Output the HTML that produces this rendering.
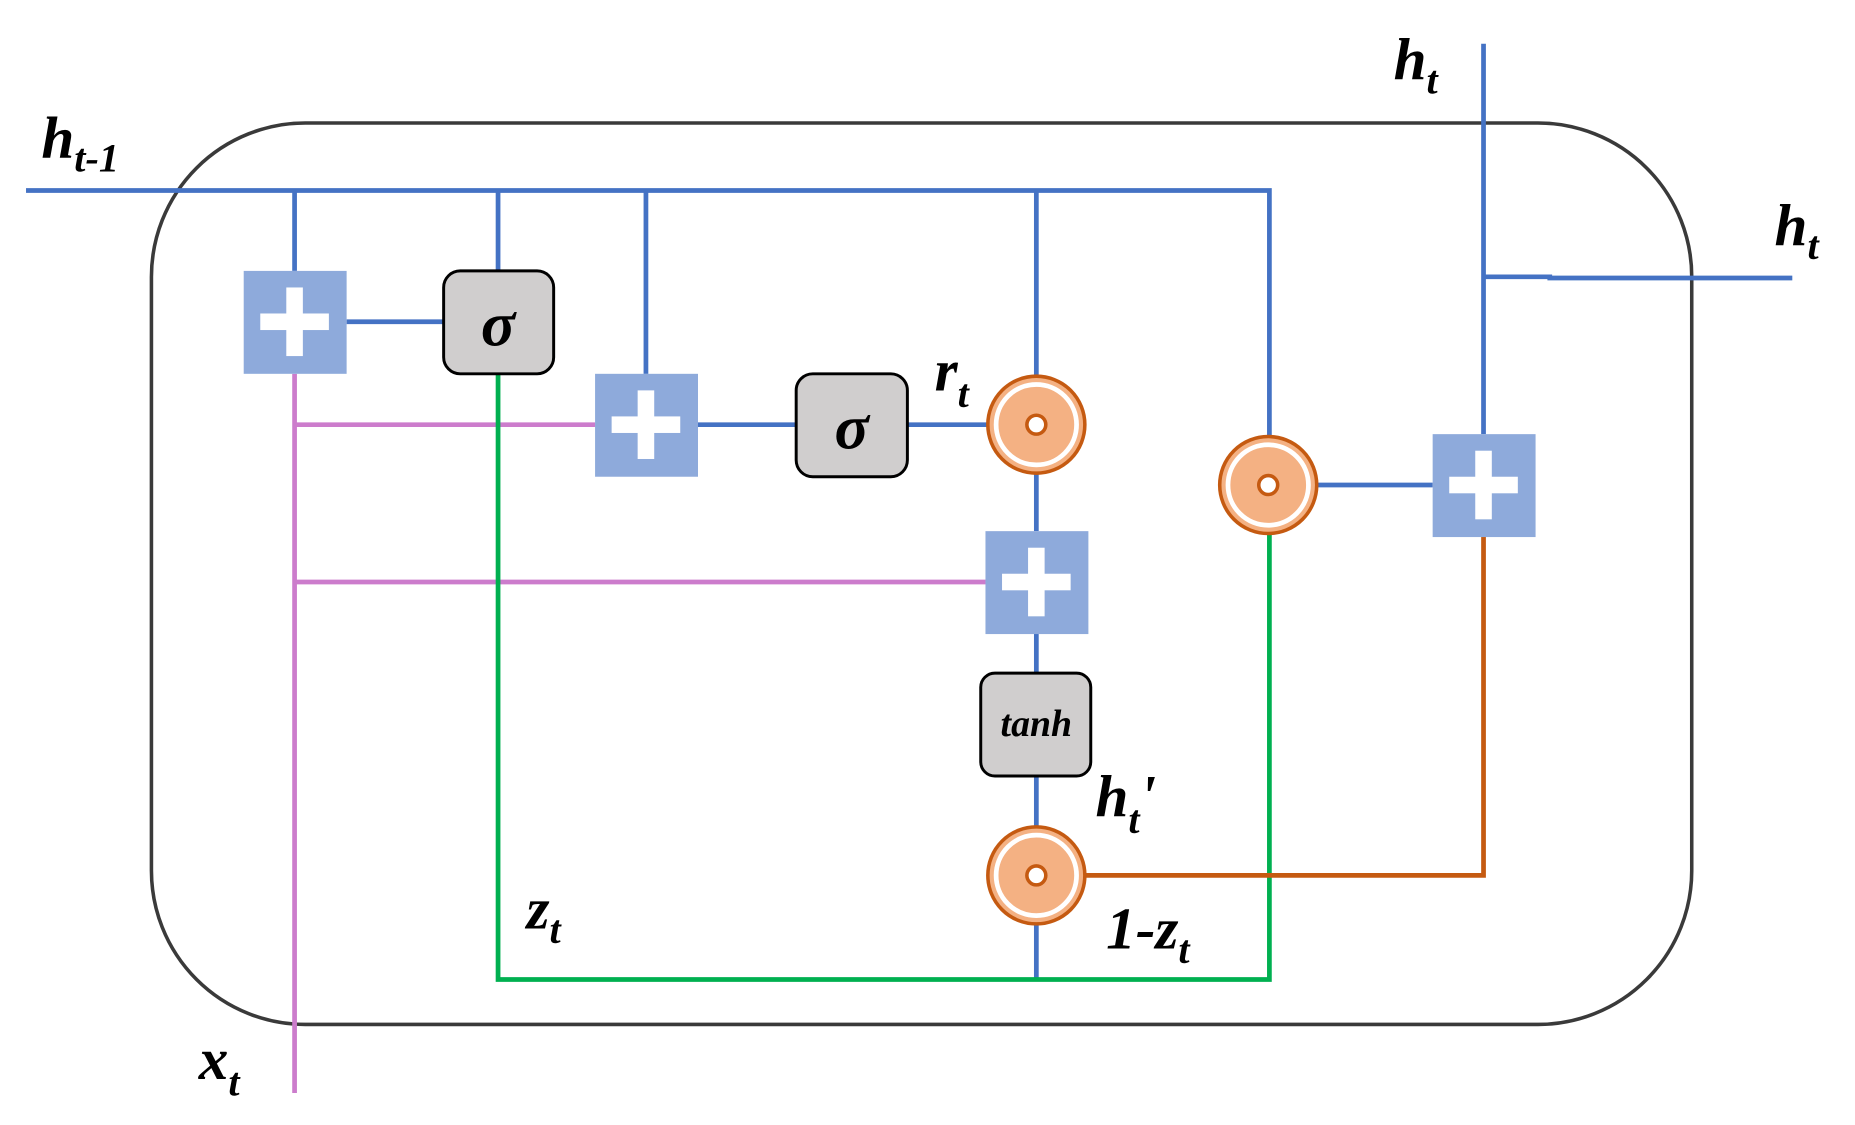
<!DOCTYPE html>
<html><head><meta charset="utf-8"><style>html,body{margin:0;padding:0;background:#fff}svg{display:block}</style></head>
<body>
<svg width="1855" height="1125" viewBox="0 0 1568 951" preserveAspectRatio="none" xmlns="http://www.w3.org/2000/svg">
<defs>
<g id="circ">
<circle r="41" fill="#f4b183" stroke="#c55a11" stroke-width="3"/>
<circle r="34" fill="none" stroke="#fff" stroke-width="4"/>
<circle r="8" fill="#fff" stroke="#c55a11" stroke-width="3"/>
</g>
<g id="plus">
<rect x="-43" y="-43" width="87" height="87" fill="#8eaadb"/>
<rect x="-29" y="-7" width="58" height="14" fill="#fff"/>
<rect x="-7" y="-29" width="14" height="58" fill="#fff"/>
</g>
</defs>
<rect x="128" y="104" width="1302" height="762" rx="130" ry="130" fill="none" stroke="#3a3a3a" stroke-width="3"/>
<g fill="none" stroke-width="4">
<g stroke="#4472c4">
<polyline points="22,161 1073,161 1073,370"/>
<line x1="249" y1="161" x2="249" y2="229"/>
<line x1="421" y1="161" x2="421" y2="229"/>
<line x1="546" y1="161" x2="546" y2="316"/>
<line x1="876" y1="161" x2="876" y2="318"/>
<line x1="293" y1="272" x2="375" y2="272"/>
<line x1="590" y1="359" x2="673" y2="359"/>
<line x1="767" y1="359" x2="835" y2="359"/>
<line x1="876" y1="400" x2="876" y2="449"/>
<line x1="876" y1="535" x2="876" y2="569"/>
<line x1="876" y1="656" x2="876" y2="700"/>
<line x1="876" y1="780" x2="876" y2="828"/>
<line x1="1113" y1="410" x2="1211" y2="410"/>
<line x1="1254" y1="37" x2="1254" y2="367"/>
<polyline points="1254,234 1310,234 1310,235 1515,235"/>
</g>
<g stroke="#cc7ccc">
<line x1="249" y1="316" x2="249" y2="924"/>
<line x1="249" y1="359" x2="503" y2="359"/>
<line x1="249" y1="492" x2="833" y2="492"/>
</g>
<polyline stroke="#00b050" points="421,316 421,828 1073,828 1073,451"/>
<polyline stroke="#c55a11" points="917,740 1254,740 1254,453"/>
</g>
<use href="#plus" x="249" y="272"/>
<use href="#plus" x="546" y="359"/>
<use href="#plus" x="876" y="492"/>
<use href="#plus" x="1254" y="410"/>
<rect x="375" y="229" width="93" height="87" rx="14" fill="#d0cece" stroke="#000" stroke-width="2.5"/>
<rect x="673" y="316" width="94" height="87" rx="14" fill="#d0cece" stroke="#000" stroke-width="2.5"/>
<rect x="829" y="569" width="93" height="87" rx="12" fill="#d0cece" stroke="#000" stroke-width="2.5"/>
<use href="#circ" x="876" y="359"/>
<use href="#circ" x="1072" y="410"/>
<use href="#circ" x="876" y="740"/>
<g font-family="Liberation Serif, serif" font-style="italic" font-weight="bold" fill="#000">
<text x="421" y="292" font-size="54" text-anchor="middle">σ</text>
<text x="720" y="379" font-size="54" text-anchor="middle">σ</text>
<text x="876" y="622" font-size="32" text-anchor="middle">tanh</text>
<text x="35" y="133" font-size="50">h<tspan font-size="34" dy="12">t-1</tspan></text>
<text x="1178" y="67" font-size="50">h<tspan font-size="34" dy="12">t</tspan></text>
<text x="1500" y="207" font-size="50">h<tspan font-size="34" dy="12">t</tspan></text>
<text x="790" y="330" font-size="50">r<tspan font-size="34" dy="14">t</tspan></text>
<text x="926" y="690" font-size="50">h<tspan font-size="34" dy="14">t</tspan><tspan dy="-14">'</tspan></text>
<text x="445" y="785" font-size="50">z<tspan font-size="34" dy="12">t</tspan></text>
<text x="935" y="802" font-size="50">1-z<tspan font-size="34" dy="12">t</tspan></text>
<text x="168" y="912" font-size="50">x<tspan font-size="34" dy="14">t</tspan></text>
</g>
</svg>
</body></html>
